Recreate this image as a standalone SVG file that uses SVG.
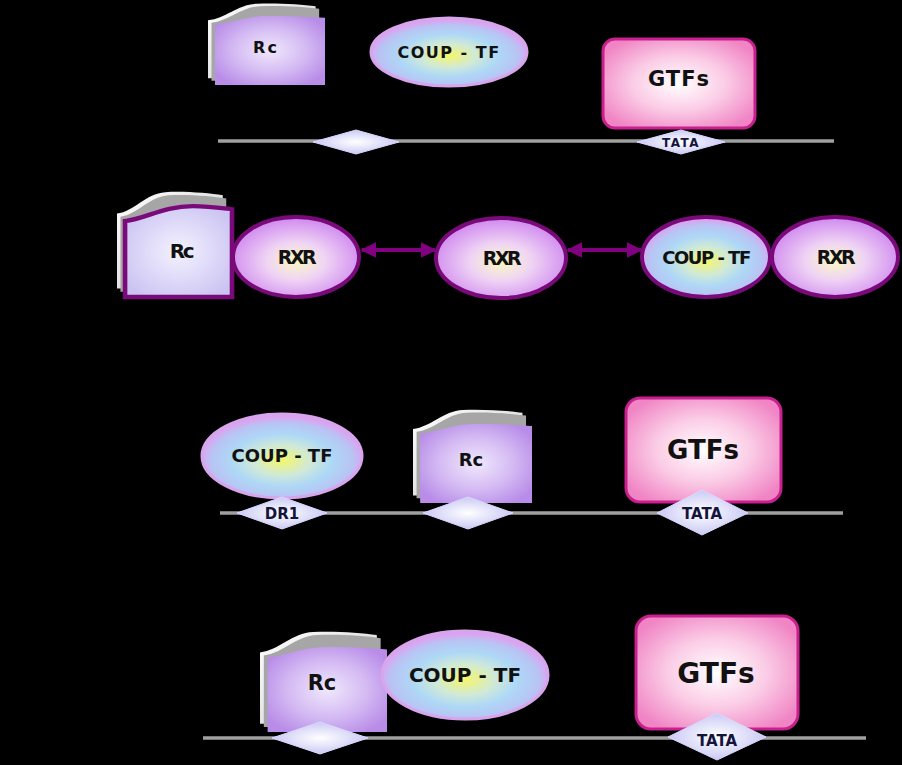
<svg xmlns="http://www.w3.org/2000/svg" width="902" height="765" viewBox="0 0 902 765">
<defs>
<radialGradient id="rcGrad" cx="50%" cy="50%" r="60%"><stop offset="0" stop-color="#f0e8fc"/><stop offset="0.55" stop-color="#d4baf3"/><stop offset="1" stop-color="#b88ce8"/></radialGradient>
<radialGradient id="rc2Grad" cx="50%" cy="50%" r="60%"><stop offset="0" stop-color="#f4f2ff"/><stop offset="1" stop-color="#cbc4f2"/></radialGradient>
<linearGradient id="backGrad" x1="0" y1="0" x2="1" y2="1"><stop offset="0" stop-color="#ffffff"/><stop offset="1" stop-color="#c8c8c8"/></linearGradient>
<radialGradient id="coupGrad" cx="50%" cy="55%" r="52%"><stop offset="0" stop-color="#f6f66a"/><stop offset="0.35" stop-color="#cfe9d8"/><stop offset="0.6" stop-color="#aed8f6"/><stop offset="0.85" stop-color="#b8c4f4"/><stop offset="1" stop-color="#dca2f0"/></radialGradient>
<radialGradient id="rxrGrad" cx="50%" cy="55%" r="52%"><stop offset="0" stop-color="#fbf8c4"/><stop offset="0.45" stop-color="#efd4f4"/><stop offset="1" stop-color="#d28ef0"/></radialGradient>
<radialGradient id="gtfGrad" cx="50%" cy="50%" r="60%"><stop offset="0" stop-color="#ffffff"/><stop offset="0.5" stop-color="#fbcde6"/><stop offset="1" stop-color="#f084c4"/></radialGradient>
<radialGradient id="diaGrad" cx="50%" cy="50%" r="55%"><stop offset="0" stop-color="#ffffff"/><stop offset="1" stop-color="#c4c4f4"/></radialGradient>
<path id="rcBack1" d="M0,22 C15,20 25,3 42,2 C60,1 80,3 92,5 L92,92 L0,92 Z"/>
<path id="rcBack2" d="M3,25 C18,23 28,6 45,5 C63,4 83,6 95,8 L95,95 L3,95 Z"/>
<path id="rcFront" d="M6,27 C20,25 32,18 47,17 C66,16 86,18 100,19 L100,100 L6,100 Z"/>
<path id="rcFront2" d="M7,29 C25,27 40,15 66,15 C80,15 92,17 100,18 L100,100 L7,100 Z"/>
<marker id="arr" viewBox="0 0 10 10" refX="9" refY="5" markerWidth="4" markerHeight="4" orient="auto-start-reverse" markerUnits="strokeWidth"><path d="M0,0 L10,5 L0,10 Z" fill="#800080"/></marker>
</defs>
<style>
text{font-family:"DejaVu Sans","Liberation Sans",sans-serif;font-weight:bold;fill:#111;text-anchor:middle}
.dna{stroke:#a0a0a0;stroke-width:3.5;fill:none}
.dia{fill:url(#diaGrad);stroke:#d8d8ff;stroke-width:1}
.diat{fill:#14143c}
.b1{fill:url(#backGrad)}
.b2{fill:#a6a6a6}
.rcf{fill:url(#rcGrad)}
.rcf2{fill:url(#rc2Grad);stroke:#7a0a7a;stroke-width:4;vector-effect:non-scaling-stroke}
.coup{fill:url(#coupGrad);stroke:#d8a4ec;stroke-width:3}
.coup2{fill:url(#coupGrad);stroke:#7a0a7a;stroke-width:4}
.rxr{fill:url(#rxrGrad);stroke:#7a0a7a;stroke-width:4}
.gtf{fill:url(#gtfGrad);stroke:#c8208e;stroke-width:3}
.cond{letter-spacing:-2.5px}
.conn{stroke:#800080;stroke-width:4;fill:none}
</style>
<rect width="902" height="765" fill="#000"/>

<!-- Panel 1 -->
<g id="dna1"><line class="dna" x1="218" y1="141" x2="834" y2="141"/></g>
<g id="rc1">
<g transform="translate(208,2) scale(1.17,0.83)"><use href="#rcBack1" class="b1"/><use href="#rcBack2" class="b2"/><use href="#rcFront" class="rcf"/></g>
<text x="266" y="53" font-size="16" letter-spacing="2">Rc</text>
</g>
<g id="coup1"><ellipse class="coup" cx="449" cy="52" rx="78" ry="34"/><text x="449" y="58" font-size="16" letter-spacing="1.5">COUP - TF</text></g>
<g id="gtf1"><rect class="gtf" x="603" y="39" width="152" height="89" rx="12"/><text x="679" y="86" font-size="21" letter-spacing="1">GTFs</text></g>
<g id="site1"><path class="dia" d="M313,142 L356,130 L399,142 L356,154 Z"/></g>
<g id="tata1"><path class="dia" d="M637,142 L681,130 L725,142 L681,154 Z"/><text class="diat" x="681" y="146.5" font-size="12" letter-spacing="1.5">TATA</text></g>

<!-- Panel 2 -->
<g id="rc2">
<g transform="translate(117,190) scale(1.15,1.07)"><use href="#rcBack1" class="b1"/><use href="#rcBack2" class="b2"/><use href="#rcFront2" class="rcf2"/></g>
<text class="cond" x="181" y="258" font-size="20">Rc</text>
</g>
<g id="rxr1"><ellipse class="rxr" cx="296" cy="257" rx="63" ry="40"/><text class="cond" x="296" y="264" font-size="19">RXR</text></g>
<g id="rxr2"><ellipse class="rxr" cx="501" cy="258" rx="65" ry="40"/><text class="cond" x="501" y="265" font-size="19">RXR</text></g>
<g id="coup2"><ellipse class="coup2" cx="706" cy="257" rx="64" ry="40"/><text x="706" y="264" font-size="18" letter-spacing="-1.5">COUP - TF</text></g>
<g id="rxr3"><ellipse class="rxr" cx="835" cy="257" rx="63" ry="40"/><text class="cond" x="835" y="264" font-size="19">RXR</text></g>
<g id="connectors">
<line class="conn" x1="362" y1="250" x2="435" y2="250" marker-start="url(#arr)" marker-end="url(#arr)"/>
<line class="conn" x1="568" y1="250" x2="641" y2="250" marker-start="url(#arr)" marker-end="url(#arr)"/>
</g>

<!-- Panel 3 -->
<g id="dna3"><line class="dna" x1="220" y1="513" x2="843" y2="513"/></g>
<g id="coup3"><ellipse class="coup" cx="282" cy="456" rx="80" ry="42"/><text x="282" y="462" font-size="18">COUP - TF</text></g>
<g id="rc3">
<g transform="translate(413,408) scale(1.19,0.95)"><use href="#rcBack1" class="b1"/><use href="#rcBack2" class="b2"/><use href="#rcFront" class="rcf"/></g>
<text x="471" y="466" font-size="18">Rc</text>
</g>
<g id="gtf3"><rect class="gtf" x="626" y="398" width="155" height="104" rx="14"/><text x="703" y="459" font-size="26">GTFs</text></g>
<g id="dr1"><path class="dia" d="M237,513 L282,497 L327,513 L282,529 Z"/><text class="diat" x="282" y="519" font-size="15">DR1</text></g>
<g id="site3"><path class="dia" d="M423,513 L468,497 L513,513 L468,529 Z"/></g>
<g id="tata3"><path class="dia" d="M657,513 L702,490 L748,513 L702,535 Z"/><text class="diat" x="702" y="519" font-size="15">TATA</text></g>

<!-- Panel 4 -->
<g id="dna4"><line class="dna" x1="203" y1="738" x2="866" y2="738"/></g>
<g id="rc4">
<g transform="translate(260,630) scale(1.27,1.02)"><use href="#rcBack1" class="b1"/><use href="#rcBack2" class="b2"/><use href="#rcFront" class="rcf"/></g>
<text x="322" y="690" font-size="21">Rc</text>
</g>
<g id="coup4"><ellipse class="coup" cx="465" cy="675" rx="83" ry="44"/><text x="465" y="682" font-size="20">COUP - TF</text></g>
<g id="gtf4"><rect class="gtf" x="636" y="616" width="162" height="113" rx="15"/><text x="716" y="683" font-size="28">GTFs</text></g>
<g id="site4"><path class="dia" d="M272,738 L320,722 L368,738 L320,754 Z"/></g>
<g id="tata4"><path class="dia" d="M668,737 L717,713 L766,737 L717,760 Z"/><text class="diat" x="717" y="746" font-size="15">TATA</text></g>
</svg>
